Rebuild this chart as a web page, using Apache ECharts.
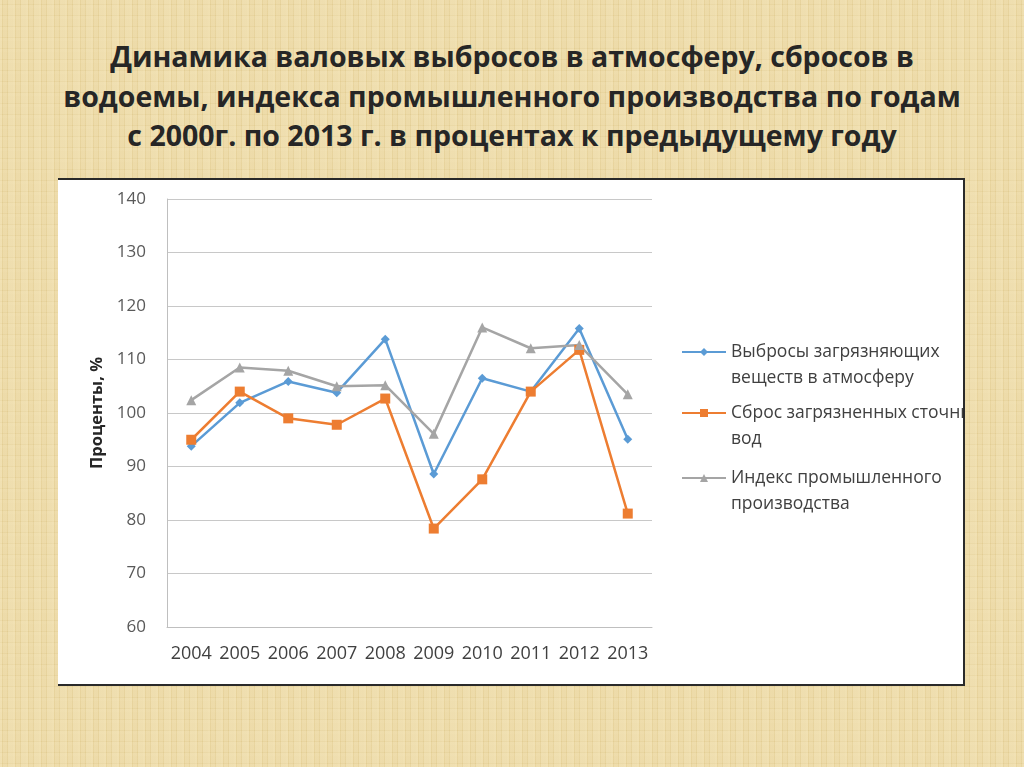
<!DOCTYPE html>
<html><head><meta charset="utf-8">
<script src="https://cdn.jsdelivr.net/npm/echarts@6/dist/echarts.min.js"></script>
<style>
html,body{margin:0;padding:0;width:1024px;height:767px;overflow:hidden;}
body{background-color:#e9d5a0;
background-image:
repeating-linear-gradient(90deg, rgba(250,238,200,0.35) 0px, rgba(250,238,200,0.35) 2px, rgba(215,190,120,0.18) 2px, rgba(215,190,120,0.18) 3px, rgba(245,230,185,0.2) 3px, rgba(245,230,185,0.2) 7px, rgba(210,185,115,0.15) 7px, rgba(210,185,115,0.15) 8px, rgba(250,240,205,0.25) 8px, rgba(250,240,205,0.25) 13px),
repeating-linear-gradient(0deg, rgba(250,238,200,0.2) 0px, rgba(250,238,200,0.2) 3px, rgba(205,180,110,0.12) 3px, rgba(205,180,110,0.12) 4px, rgba(248,235,195,0.15) 4px, rgba(248,235,195,0.15) 11px);
font-family:"Open Sans",sans-serif;}
#title{position:absolute;left:0;top:37px;width:1024px;text-align:center;font-weight:bold;font-size:28.5px;line-height:39.5px;color:#262626;font-family:"Open Sans",sans-serif;}
#panel{position:absolute;left:58px;top:178px;width:905px;height:504px;background:#fff;border-top:2px solid #2a2a2a;border-right:2px solid #2a2a2a;border-bottom:2px solid #2a2a2a;}
#chart{position:absolute;left:0;top:0;width:905px;height:504px;}
</style></head>
<body>
<div id="title">Динамика валовых выбросов в атмосферу, сбросов в<br>водоемы, индекса промышленного производства по годам<br>с 2000г. по 2013 г. в процентах к предыдущему году</div>
<div id="panel"><div id="chart"></div></div>
<script>
const years = ['2004','2005','2006','2007','2008','2009','2010','2011','2012','2013'];
const emissions = [93.8, 101.9, 105.9, 103.8, 113.8, 88.6, 106.5, 104.0, 115.8, 95.1];
const discharge = [95.0, 104.0, 99.0, 97.8, 102.7, 78.4, 87.6, 104.0, 111.8, 81.2];
const industry = [102.4, 108.5, 107.9, 105.0, 105.2, 96.1, 116.0, 112.1, 112.7, 103.5];
const yTicks = {min: 60, max: 140, interval: 10};
const names = ['Выбросы загрязняющих\nвеществ в атмосферу', 'Сброс загрязненных сточных\nвод', 'Индекс промышленного\nпроизводства'];
const colors = ['#5b9bd5', '#ed7d31', '#a5a5a5'];

const chart = echarts.init(document.getElementById('chart'));
const legendCenters = [172, 233, 298];
const lh = 26;
const legends = names.map((n, i) => ({
  data: [n], left: 623, top: legendCenters[i] - lh * 1.5, orient: 'vertical', padding: 0,
  itemWidth: 44, itemHeight: 10, selectedMode: false,
  formatter: t => ' \n' + t,
  textStyle: {fontSize: 17.5, color: '#404040', fontFamily: 'Open Sans', lineHeight: lh}
}));
const mk = (name, data, color, symbol, size) => ({
  name, type: 'line', data, color, symbol, symbolSize: size,
  lineStyle: {width: 2.5, color}, itemStyle: {color}, showSymbol: true
});
chart.setOption({
  animation: false,
  textStyle: {fontFamily: 'Open Sans'},
  legend: legends,
  grid: {left: 109, top: 19, width: 485, height: 428},
  xAxis: {type: 'category', data: years, boundaryGap: true,
    axisLine: {lineStyle: {color: '#bfbfbf', width: 1}}, axisTick: {show: false},
    axisLabel: {fontSize: 18, color: '#404040', margin: 18, interval: 0}},
  yAxis: {type: 'value', min: yTicks.min, max: yTicks.max, interval: yTicks.interval,
    name: 'Проценты, %', nameLocation: 'middle', nameGap: 55,
    nameTextStyle: {fontSize: 16.5, fontWeight: 'bold', color: '#262626'},
    axisLine: {show: true, lineStyle: {color: '#bfbfbf', width: 1}}, axisTick: {show: false},
    splitLine: {lineStyle: {color: '#c8c8c8', width: 1}},
    axisLabel: {fontSize: 17, color: '#595959', margin: 21}},
  series: [
    mk(names[0], emissions, colors[0], 'diamond', 9),
    mk(names[1], discharge, colors[1], 'rect', 10),
    mk(names[2], industry, colors[2], 'triangle', 10)
  ]
});
</script>
</body></html>
